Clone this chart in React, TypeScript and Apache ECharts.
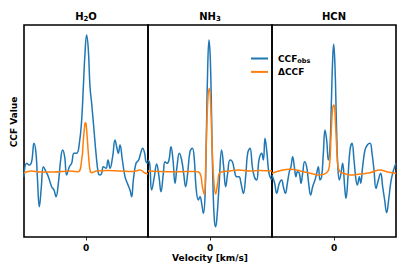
import React, { useEffect, useRef } from "react";
import * as echarts from "echarts";

const panelNames = ["H2O", "NH3", "HCN"];
const seriesNames = ["CCF_obs", "ΔCCF"];
const tickValues = [0];
const velRange = [-124, 124];
const ccfRange = [-65, 147];

const h2oObsVel = [-124,-118.7,-113.3,-108.7,-104,-100,-97.3,-93.3,-89.3,-85.3,-80,-75.3,-68.7,-64,-60,-55.3,-50.7,-46.7,-42.7,-38.7,-33.3,-28.7,-24,-18.7,-13.3,-8.7,-5.3,-2,1.3,4.7,8,11.3,16,20,24.7,28,31.3,34.7,40,44,48,53.3,58,61.3,64.7,68,72.7,78,82.7,88,91.3,94.7,100,105.3,109.3,113.3,117.3,120,124];
const h2oObs = [-4.7,8.7,7,10.3,28.7,18.7,-4.7,-34.7,-14.7,5.3,0.3,-4.7,-14.7,-18,-24.7,-11.3,12,22,15.3,-3,5.3,8.7,18.7,18.7,28.7,52,85.3,118.7,137,122,85.3,68.7,42,18.7,-1.3,-3,-1.3,5.3,3.7,12,3.7,15.3,32,25.3,18.7,27,12,-4.7,-11.3,-18,-24.7,-8,8.7,12,18.7,23.7,18.7,10.3,8.7];
const h2oDeltaVel = [-124,-110,-92,-64,-32,-16,-8.7,-5.3,-2,-0.7,1.3,4.7,8,11.3,21.3,41,68,95,108,118,124];
const h2oDelta = [-1,1,0,0,1,0.3,12,32,48.7,49.3,42,18.7,2,-0.7,1,1.5,1,0.5,2,-1,-2];

const nh3ObsVel = [-124,-120.7,-116.7,-111.3,-106.7,-102,-98,-93.3,-90,-86,-82,-78,-74,-70,-66,-61.3,-56.7,-52.7,-48.7,-44.7,-40,-35.3,-31.3,-28,-23.3,-20,-16.7,-13.3,-10,-7.3,-4.7,-2,0.7,3.3,6,8.7,11.3,14,18,23.3,27.3,31.3,35.3,40,44.7,48.7,53.3,58,62,66.7,71.3,75.3,80,84.7,88.7,93.3,98,103.3,106.7,110,114,118,123.3];
const nh3Obs = [12,8.7,-18,-4.7,8,-4.7,-19.7,-1.3,10.3,8.7,12,25.3,12,-11.3,5.3,18.7,12,-1.3,-14.7,-1.3,20.3,23.7,12,-14.7,-28,-24.7,-31.3,-41.3,-24.7,35.3,102,132,112,52,-14.7,-48,-54.7,-44.7,-14.7,22,5.3,-14.7,-1.3,12,10.3,2,-4.7,-4.7,-11.3,-21.3,-4.7,18.7,23.7,5.3,-4.7,-8,12,18.7,12,33.7,18.7,-1.3,-8];
const nh3DeltaVel = [-124,-100,-63.3,-30,-20,-15.3,-11.3,-8,-4.7,-1.3,1.3,4.7,8,11.3,15.3,20,40,56.7,80,100,124];
const nh3Delta = [1,0.5,0.3,0.5,-1.3,-14.7,-23,18.7,68.7,83.7,68.7,18.7,-11.3,-22,-11.3,-0.7,1,2,1,1.5,1];

const hcnObsVel = [-124,-118.7,-114.7,-109.3,-104.7,-101.3,-97.3,-93.3,-89.3,-86,-82.7,-79.3,-76,-73.3,-69.3,-66,-62.7,-58.7,-54.7,-50.7,-46.7,-42.7,-38,-34.7,-31.3,-28,-24.7,-21.3,-18,-14.7,-11.3,-8,-5.3,-2.7,-0.7,2,4.7,7.3,10.7,14,17.3,21.3,24,28,32,36,40,44,46.7,50.7,53.3,57.3,62,66.7,72,76,80,84,88.7,93.3,97.3,101.3,105.3,109.3,113.3,117.3,121.3,124];
const hcnObs = [-3,-11.3,-21.3,-11.3,-8,-14.7,-21.3,-11.3,0.3,5.3,15.3,5.3,-4.7,0.3,-1.3,-11.3,-1.3,10.3,5.3,-11.3,-23,-14.7,-8,-1.3,5.3,-8,-4.7,18.7,42,32,12,25.3,68.7,112,128,105.3,52,8.7,-8,-1.3,8.7,-14.7,-26.3,-4.7,22,28.7,12,-8,-13,-4.7,-11.3,5.3,22,27,28.7,18.7,2,-16.3,-8,-1.3,-14.7,-28,-40.7,-28,-11.3,-1.3,5.3,8.7];
const hcnDeltaVel = [-124,-108,-88,-61.3,-41.3,-28,-14.7,-9.3,-6,-2.7,0,2.7,5.3,8,12,18.7,32,52,72,92,105.3,122,124];
const hcnDelta = [-1.3,1.3,2.7,0.3,-2,-3,-0.7,5.3,35.3,63.7,67,52,25.3,5.3,0.3,-1.3,-3,-2,-0.7,2,0.3,-1.3,-1.5];

const obsSets = [[h2oObsVel, h2oObs], [nh3ObsVel, nh3Obs], [hcnObsVel, hcnObs]];
const deltaSets = [[h2oDeltaVel, h2oDelta], [nh3DeltaVel, nh3Delta], [hcnDeltaVel, hcnDelta]];

const FONT = "DejaVu Sans";
const BLUE = "#1f77b4";
const ORANGE = "#ff7f0e";

const zip = (xs: number[], ys: number[]) => xs.map((x, i) => [x, ys[i]]);

const titleRich = (name: string) => {
  const m = name.match(/^([A-Za-z]+?)(\d)([A-Za-z]*)$/);
  if (!m) return `{m|${name}}`;
  return `{m|${m[1]}}{s|${m[2]}}` + (m[3] ? `{m|${m[3]}}` : "");
};

export default function App() {
  const ref = useRef<HTMLDivElement>(null);
  useEffect(() => {
    if (!ref.current) return;
    const chart = echarts.init(ref.current, undefined, { renderer: "svg" });
    const gridLeft = 24;
    const gridW = 124;
    const gridTop = 25;
    const gridH = 212;
    const grids = panelNames.map((_, i) => ({
      left: gridLeft + i * gridW,
      top: gridTop,
      width: gridW,
      height: gridH,
      show: true,
      borderColor: "#000",
      borderWidth: 1.6,
      backgroundColor: "transparent",
      containLabel: false,
    }));
    const xAxes = panelNames.map((_, i) => ({
      type: "value",
      gridIndex: i,
      position: "bottom",
      min: velRange[0],
      max: velRange[1],
      axisLine: { show: false, onZero: false },
      splitLine: { show: false },
      axisTick: { show: true, customValues: tickValues, length: 3.5, lineStyle: { color: "#000", width: 0.8 } },
      axisLabel: {
        show: true,
        customValues: tickValues,
        color: "#000",
        fontFamily: FONT,
        fontWeight: "bold",
        fontSize: 9,
        margin: 6,
      },
    }));
    const yAxes = panelNames.map((_, i) => ({
      type: "value",
      gridIndex: i,
      min: ccfRange[0],
      max: ccfRange[1],
      axisLine: { show: false, onZero: false },
      axisTick: { show: false },
      axisLabel: { show: false },
      splitLine: { show: false },
    }));
    const series: any[] = [];
    panelNames.forEach((_, i) => {
      series.push({
        type: "line",
        name: seriesNames[0],
        xAxisIndex: i,
        yAxisIndex: i,
        data: zip(obsSets[i][0], obsSets[i][1]),
        smooth: 0.45,
        symbol: "none",
        lineStyle: { color: BLUE, width: 1.5 },
        itemStyle: { color: BLUE },
        clip: true,
        z: 2,
      });
      series.push({
        type: "line",
        name: seriesNames[1],
        xAxisIndex: i,
        yAxisIndex: i,
        data: zip(deltaSets[i][0], deltaSets[i][1]),
        smooth: 0.45,
        symbol: "none",
        lineStyle: { color: ORANGE, width: 1.5 },
        itemStyle: { color: ORANGE },
        clip: true,
        z: 3,
      });
    });
    const textRich = {
      m: { fontFamily: FONT, fontWeight: "bold", fontSize: 10, fill: "#000", color: "#000", lineHeight: 13 },
      s: { fontFamily: FONT, fontWeight: "bold", fontSize: 7, fill: "#000", color: "#000", lineHeight: 13, verticalAlign: "bottom" },
    };
    const graphics: any[] = panelNames.map((name, i) => ({
      type: "text",
      x: gridLeft + i * gridW + gridW / 2,
      y: 16,
      style: {
        text: titleRich(name),
        rich: textRich,
        align: "center",
        verticalAlign: "middle",
        textAlign: "center",
        textVerticalAlign: "middle",
      },
    }));
    graphics.push({
      type: "text",
      x: 14,
      y: 122,
      rotation: Math.PI / 2,
      style: {
        text: "CCF Value",
        font: `bold 9px "${FONT}"`,
        fill: "#000",
        align: "center",
        verticalAlign: "middle",
        textAlign: "center",
        textVerticalAlign: "middle",
      },
    });
    graphics.push({
      type: "text",
      x: 210,
      y: 258,
      style: {
        text: "Velocity [km/s]",
        font: `bold 9px "${FONT}"`,
        fill: "#000",
        align: "center",
        verticalAlign: "middle",
        textAlign: "center",
        textVerticalAlign: "middle",
      },
    });
    chart.setOption({
      animation: false,
      grid: grids,
      xAxis: xAxes,
      yAxis: yAxes,
      series,
      graphic: graphics,
      legend: {
        show: true,
        data: seriesNames,
        orient: "vertical",
        left: 250,
        top: 53.7,
        itemWidth: 17,
        itemHeight: 12,
        itemGap: 2.6,
        padding: 0,
        itemStyle: { opacity: 0 },
        formatter: (n: string) => (n === "CCF_obs" ? "{m|CCF}{s|obs}" : "{m|ΔCCF}"),
        textStyle: {
          rich: {
            m: { fontFamily: FONT, fontWeight: "bold", fontSize: 9, color: "#000", lineHeight: 12, padding: [0, 0, 0, 5] },
            s: { fontFamily: FONT, fontWeight: "bold", fontSize: 6.5, color: "#000", lineHeight: 12, verticalAlign: "bottom" },
          },
        },
      },
    });
    return () => chart.dispose();
  }, []);
  return (
    <div
      ref={ref}
      style={{ position: "fixed", left: 0, top: 0, width: 415, height: 277, background: "#fff" }}
    />
  );
}
